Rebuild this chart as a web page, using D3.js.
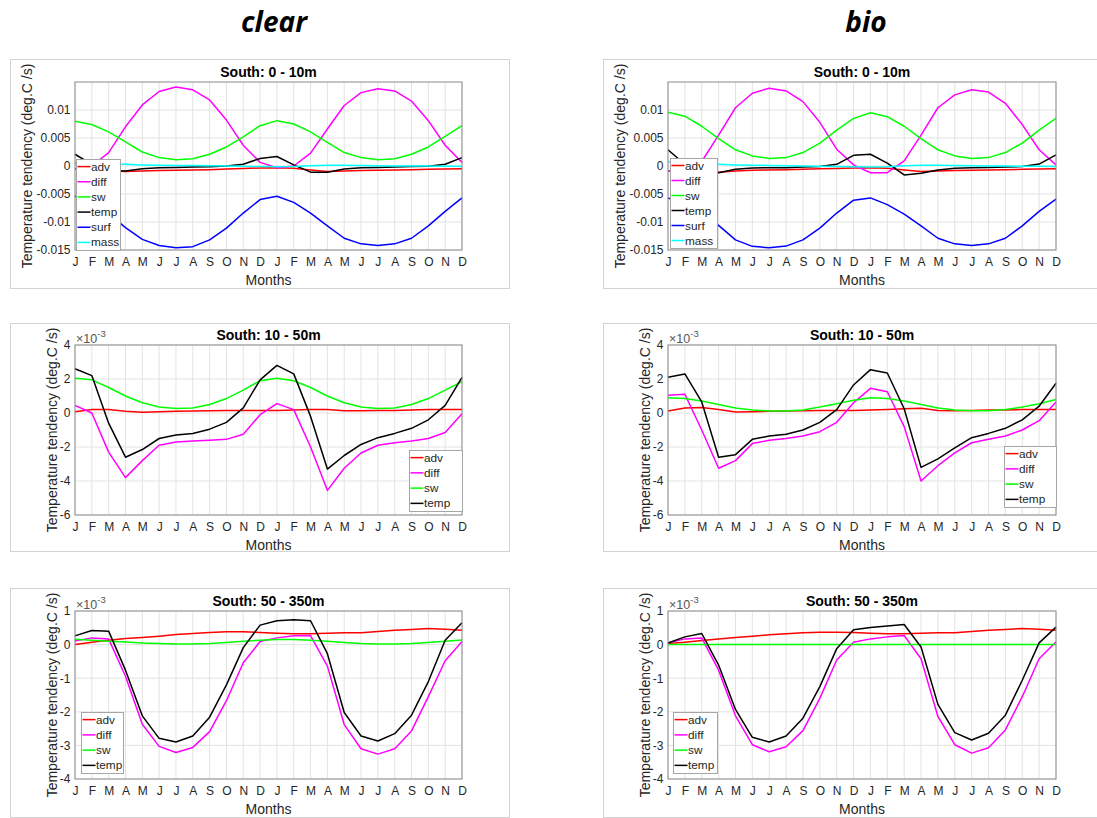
<!DOCTYPE html>
<html><head><meta charset="utf-8">
<script src="https://cdn.jsdelivr.net/npm/d3@7"></script>
<style>
body{margin:0;background:#fff}
svg{display:block}
text{font-family:"Liberation Sans",Arial,Helvetica,sans-serif}
</style>
</head><body>
<svg id="chart" width="1097" height="818"></svg>
<script>
// ---------- DATA (values in units of 1e-3 deg.C/s) ----------
const months = ["J","F","M","A","M","J","J","A","S","O","N","D","J","F","M","A","M","J","J","A","S","O","N","D"];
const columnTitles = ["clear", "bio"];
const rowTitles = ["South: 0 - 10m", "South: 10 - 50m", "South: 50 - 350m"];
const xLabel = "Months";
const yLabel = "Temperature tendency (deg.C /s)";

const ticksRow1 = [-15, -10, -5, 0, 5, 10];
const tickLabelsRow1 = ["-0.015", "-0.01", "-0.005", "0", "0.005", "0.01"];
const ticksRow2 = [-6, -4, -2, 0, 2, 4];
const tickLabelsRow2 = ["-6", "-4", "-2", "0", "2", "4"];
const ticksRow3 = [-4, -3, -2, -1, 0, 1];
const tickLabelsRow3 = ["-4", "-3", "-2", "-1", "0", "1"];

const seriesNames = ["adv", "diff", "sw", "temp", "surf", "mass"];
const seriesColors = ["#ff0000", "#ff00ff", "#00ff00", "#000000", "#0000ff", "#00ffff"];

// clear, 0-10m
const clear1_adv  = [-0.5,-0.6,-0.8,-1.0,-0.9,-0.8,-0.75,-0.7,-0.65,-0.55,-0.45,-0.35,-0.3,-0.4,-0.7,-1.0,-0.9,-0.8,-0.75,-0.7,-0.65,-0.6,-0.55,-0.5];
const clear1_diff = [0.5,0.0,2.4,7.0,10.9,13.3,14.1,13.6,11.8,8.2,3.7,0.65,-0.3,0.0,2.3,6.6,10.8,13.1,13.8,13.4,11.6,8.1,3.7,0.65];
const clear1_sw   = [8.0,7.4,6.1,4.3,2.5,1.5,1.1,1.3,2.1,3.4,5.2,7.2,8.1,7.5,6.1,4.2,2.4,1.5,1.1,1.3,2.1,3.4,5.3,7.2];
const clear1_temp = [2.1,0.3,-0.9,-0.9,-0.5,-0.3,-0.25,-0.2,-0.15,0.0,0.3,1.35,1.7,0.2,-1.1,-1.1,-0.55,-0.3,-0.25,-0.2,-0.1,-0.05,0.3,1.5];
const clear1_surf = [-5.4,-6.5,-8.5,-11.0,-13.1,-14.2,-14.6,-14.4,-13.2,-11.1,-8.4,-6.0,-5.4,-6.5,-8.4,-10.7,-12.9,-13.9,-14.2,-13.9,-12.9,-10.7,-8.1,-5.7];
const clear1_mass = [0.6,0.5,0.4,0.3,0.2,0.15,0.1,0.1,0.05,0.0,-0.05,-0.1,-0.15,-0.1,0.05,0.15,0.15,0.1,0.05,0.0,0.0,0.0,-0.05,-0.05];

// bio, 0-10m
const bio1_adv  = [-0.9,-0.9,-1.0,-1.1,-0.9,-0.75,-0.7,-0.65,-0.6,-0.5,-0.45,-0.35,-0.3,-0.4,-0.7,-1.0,-0.9,-0.8,-0.75,-0.7,-0.65,-0.6,-0.55,-0.5];
const bio1_diff = [-0.9,-1.1,0.8,5.5,10.4,13.0,13.9,13.4,11.5,7.8,3.0,0.2,-1.2,-1.2,0.9,5.5,10.4,12.7,13.6,13.2,11.2,7.4,2.9,0.2];
const bio1_sw   = [9.6,8.9,7.1,4.9,2.9,1.8,1.35,1.5,2.4,4.1,6.4,8.5,9.5,8.8,7.1,4.9,2.9,1.8,1.35,1.5,2.4,4.1,6.4,8.5];
const bio1_temp = [2.9,0.3,-1.3,-1.2,-0.6,-0.35,-0.3,-0.3,-0.2,-0.1,0.3,1.9,2.1,0.5,-1.6,-1.3,-0.7,-0.4,-0.3,-0.25,-0.2,-0.1,0.35,2.0];
const bio1_surf = [-5.7,-7.0,-8.8,-10.6,-13.2,-14.35,-14.6,-14.3,-13.2,-11.1,-8.4,-6.1,-5.7,-6.9,-8.6,-10.7,-12.9,-13.9,-14.2,-13.9,-12.9,-10.7,-8.1,-5.9];
const bio1_mass = [0.75,0.6,0.45,0.3,0.2,0.15,0.1,0.05,0.0,-0.05,-0.1,-0.15,-0.2,-0.15,0.05,0.15,0.15,0.1,0.05,0.0,0.0,-0.05,-0.05,-0.1];

// clear, 10-50m
const clear2_adv  = [0.08,0.2,0.2,0.1,0.05,0.08,0.1,0.12,0.13,0.14,0.15,0.15,0.15,0.17,0.2,0.2,0.13,0.13,0.15,0.15,0.17,0.2,0.2,0.2];
const clear2_diff = [0.45,0.0,-2.3,-3.8,-2.8,-1.9,-1.7,-1.65,-1.6,-1.55,-1.25,-0.1,0.55,0.2,-2.0,-4.55,-3.25,-2.35,-1.9,-1.75,-1.65,-1.5,-1.15,-0.05];
const clear2_sw   = [2.05,1.95,1.5,1.0,0.6,0.35,0.27,0.3,0.5,0.85,1.35,1.9,2.05,1.9,1.5,1.0,0.6,0.35,0.27,0.3,0.5,0.85,1.35,1.85];
const clear2_temp = [2.6,2.2,-0.6,-2.6,-2.15,-1.5,-1.3,-1.2,-0.95,-0.55,0.3,1.95,2.8,2.3,-0.2,-3.3,-2.5,-1.85,-1.45,-1.2,-0.9,-0.4,0.45,2.1];

// bio, 10-50m
const bio2_adv  = [0.12,0.3,0.32,0.2,0.06,0.08,0.1,0.12,0.13,0.14,0.15,0.15,0.17,0.2,0.25,0.28,0.15,0.13,0.15,0.17,0.18,0.2,0.2,0.2];
const bio2_diff = [1.05,1.1,-1.0,-3.25,-2.8,-1.8,-1.6,-1.5,-1.35,-1.1,-0.55,0.6,1.45,1.25,-0.8,-4.0,-3.1,-2.35,-1.75,-1.55,-1.35,-1.0,-0.45,0.65];
const bio2_sw   = [0.9,0.85,0.7,0.5,0.3,0.18,0.12,0.12,0.18,0.35,0.55,0.75,0.9,0.85,0.7,0.5,0.3,0.18,0.13,0.13,0.2,0.35,0.55,0.8];
const bio2_temp = [2.1,2.3,0.65,-2.6,-2.45,-1.55,-1.35,-1.25,-1.0,-0.55,0.2,1.65,2.55,2.35,0.25,-3.2,-2.7,-2.05,-1.45,-1.2,-0.9,-0.4,0.4,1.75];

// clear, 50-350m
const clear3_adv  = [0.0,0.07,0.13,0.18,0.21,0.25,0.3,0.33,0.36,0.38,0.38,0.36,0.34,0.32,0.32,0.34,0.35,0.35,0.39,0.43,0.45,0.48,0.46,0.43];
const clear3_diff = [0.11,0.2,0.17,-0.94,-2.37,-3.03,-3.21,-3.06,-2.59,-1.67,-0.54,0.09,0.2,0.26,0.27,-0.64,-2.38,-3.1,-3.26,-3.1,-2.57,-1.55,-0.48,0.09];
const clear3_sw   = [0.16,0.13,0.1,0.08,0.05,0.03,0.02,0.02,0.03,0.06,0.1,0.13,0.15,0.15,0.13,0.1,0.06,0.03,0.02,0.02,0.03,0.06,0.1,0.14];
const clear3_temp = [0.26,0.42,0.4,-0.76,-2.12,-2.79,-2.9,-2.72,-2.16,-1.2,-0.09,0.58,0.71,0.74,0.71,-0.27,-2.02,-2.72,-2.87,-2.65,-2.1,-1.1,0.13,0.65];

// bio, 50-350m
const bio3_adv  = [0.03,0.07,0.12,0.17,0.21,0.25,0.29,0.32,0.35,0.37,0.37,0.36,0.34,0.32,0.32,0.34,0.35,0.35,0.39,0.43,0.45,0.48,0.46,0.43];
const bio3_diff = [0.05,0.17,0.2,-0.76,-2.12,-2.98,-3.19,-3.04,-2.56,-1.6,-0.46,0.07,0.17,0.23,0.27,-0.42,-2.14,-2.98,-3.23,-3.07,-2.54,-1.55,-0.42,0.08];
const bio3_sw   = [0,0,0,0,0,0,0,0,0,0,0,0,0,0,0,0,0,0,0,0,0,0,0,0];
const bio3_temp = [0.05,0.23,0.33,-0.61,-1.93,-2.76,-2.9,-2.72,-2.19,-1.25,-0.12,0.44,0.51,0.55,0.6,-0.07,-1.78,-2.62,-2.84,-2.64,-2.1,-1.06,0.05,0.52];

// ---------- LAYOUT ----------
const cols = [
  {px0: 75, px1: 462, bx0: 10, bx1: 509, tx: 274},
  {px0: 668, px1: 1056, bx0: 603, bx1: 1110, tx: 866}
];
const rows = [
  {py0: 82, py1: 250, by0: 59.5, by1: 288.5, domain: [-15, 15], ticks: ticksRow1, labels: tickLabelsRow1, exp: false, ylOff: 48},
  {py0: 345, py1: 515, by0: 323.5, by1: 551.5, domain: [-6, 4], ticks: ticksRow2, labels: tickLabelsRow2, exp: true, ylOff: 23},
  {py0: 611, py1: 779, by0: 588.5, by1: 817.5, domain: [-4, 1], ticks: ticksRow3, labels: tickLabelsRow3, exp: true, ylOff: 23}
];
const panelSeries = [
  [[clear1_adv, clear1_diff, clear1_sw, clear1_temp, clear1_surf, clear1_mass],
   [bio1_adv, bio1_diff, bio1_sw, bio1_temp, bio1_surf, bio1_mass]],
  [[clear2_adv, clear2_diff, clear2_sw, clear2_temp],
   [bio2_adv, bio2_diff, bio2_sw, bio2_temp]],
  [[clear3_adv, clear3_diff, clear3_sw, clear3_temp],
   [bio3_adv, bio3_diff, bio3_sw, bio3_temp]]
];
const legendBoxes = [
  [{x: 76, y: 159, w: 44, h: 91}, {x: 670, y: 158, w: 47, h: 90}],
  [{x: 409, y: 450, w: 53, h: 61}, {x: 1004, y: 446, w: 52, h: 61}],
  [{x: 81, y: 712, w: 42, h: 61}, {x: 673, y: 712, w: 44, h: 61}]
];

const svg = d3.select("#chart");
const axisColor = "#8c8c8c", textColor = "#262626", gridColor = "#e3e3e3";

// column titles
cols.forEach((c, ci) => {
  svg.append("text").attr("x", c.tx).attr("y", 32).attr("text-anchor", "middle")
    .style("font-family", "'Open Sans', sans-serif").style("font-weight", "bold").style("font-style", "italic")
    .style("font-size", "28px").attr("fill", "#000").text(columnTitles[ci]);
});

rows.forEach((r, ri) => {
  cols.forEach((c, ci) => {
    const g = svg.append("g");
    // figure box
    g.append("rect").attr("x", c.bx0 + 0.5).attr("y", r.by0).attr("width", c.bx1 - c.bx0).attr("height", r.by1 - r.by0)
      .attr("fill", "none").attr("stroke", "#d2d2d2").attr("stroke-width", 1);

    const x = d3.scalePoint().domain(d3.range(months.length)).range([c.px0, c.px1]).padding(0);
    const y = d3.scaleLinear().domain(r.domain).range([r.py1, r.py0]);

    // grid
    g.append("g").selectAll("line").data(d3.range(months.length)).join("line")
      .attr("x1", d => x(d)).attr("x2", d => x(d)).attr("y1", r.py0).attr("y2", r.py1)
      .attr("stroke", gridColor).attr("stroke-width", 1);
    g.append("g").selectAll("line").data(r.ticks).join("line")
      .attr("x1", c.px0).attr("x2", c.px1).attr("y1", d => y(d)).attr("y2", d => y(d))
      .attr("stroke", gridColor).attr("stroke-width", 1);

    // axes
    const xa = g.append("g").attr("transform", `translate(0,${r.py1})`)
      .call(d3.axisBottom(x).tickSize(0).tickPadding(7.5).tickFormat(i => months[i]));
    const ya = g.append("g").attr("transform", `translate(${c.px0},0)`)
      .call(d3.axisLeft(y).tickValues(r.ticks).tickSize(0).tickPadding(4.5).tickFormat((d, i) => r.labels[i]));
    [xa, ya].forEach(a => {
      a.select(".domain").remove();
      a.selectAll("text").attr("fill", textColor).style("font-size", "12px")
        .style("font-family", "'Liberation Sans', Arial, sans-serif");
    });

    // series
    const line = d3.line().x((d, i) => x(i)).y(d => y(d));
    panelSeries[ri][ci].forEach((vals, si) => {
      g.append("path").datum(vals).attr("d", line).attr("fill", "none")
        .attr("stroke", seriesColors[si]).attr("stroke-width", 1.5).attr("stroke-linejoin", "round");
    });

    // plot box
    g.append("rect").attr("x", c.px0).attr("y", r.py0).attr("width", c.px1 - c.px0).attr("height", r.py1 - r.py0)
      .attr("fill", "none").attr("stroke", axisColor).attr("stroke-width", 1);

    // title
    g.append("text").attr("x", (c.px0 + c.px1) / 2).attr("y", r.py0 - 5.5).attr("text-anchor", "middle")
      .style("font-size", "14px").style("font-weight", "bold").attr("fill", "#000").text(rowTitles[ri]);
    // x label
    g.append("text").attr("x", (c.px0 + c.px1) / 2).attr("y", r.py1 + 35).attr("text-anchor", "middle")
      .style("font-size", "14px").attr("fill", textColor).text(xLabel);
    // y label
    g.append("text").attr("transform", `translate(${c.px0 - r.ylOff},${(r.py0 + r.py1) / 2}) rotate(-90)`)
      .attr("text-anchor", "middle").attr("dy", "0.35em")
      .style("font-size", "14px").attr("fill", textColor).text(yLabel);
    // exponent
    if (r.exp) {
      const t = g.append("text").attr("x", c.px0 + 1).attr("y", r.py0 - 2.5).attr("fill", "#555").style("font-size", "12.5px");
      t.append("tspan").text("\u00d710");
      t.append("tspan").attr("dy", -6).style("font-size", "9.5px").text("-3");
    }

    // legend
    const lb = legendBoxes[ri][ci];
    const n = panelSeries[ri][ci].length;
    const lg = g.append("g");
    lg.append("rect").attr("x", lb.x + 0.5).attr("y", lb.y + 0.5).attr("width", lb.w).attr("height", lb.h)
      .attr("fill", "#fff").attr("stroke", "#a6a6a6").attr("stroke-width", 1);
    const rh = lb.h / n;
    seriesNames.slice(0, n).forEach((name, si) => {
      const cy = lb.y + rh * (si + 0.5);
      lg.append("line").attr("x1", lb.x + 1.5).attr("x2", lb.x + 14.5).attr("y1", cy).attr("y2", cy)
        .attr("stroke", seriesColors[si]).attr("stroke-width", 1.5);
      lg.append("text").attr("x", lb.x + 15).attr("y", cy + 4).style("font-size", "11.8px")
        .attr("fill", textColor).text(name);
    });
  });
});
</script>
</body></html>
